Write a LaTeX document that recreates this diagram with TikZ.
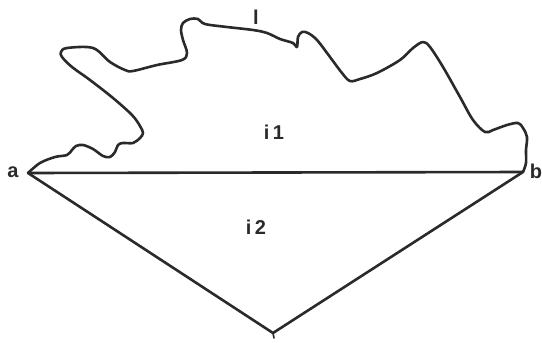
\documentclass[tikz,border=0pt]{standalone}
\usepackage{fontspec}
\setmainfont{Liberation Sans}
\usepackage{tikz}
\usetikzlibrary{positioning}
\definecolor{SketchInk}{HTML}{2A2A2A}

\begin{document}
\begin{tikzpicture}[x=0.5pt, y=-0.5pt, font=\fontsize{10}{12}\selectfont\bfseries,
    outline/.style={SketchInk, line width=1.3pt, line join=round, line cap=round},
    tag/.style={text=SketchInk, inner sep=0pt}]
  \useasboundingbox (0,0) rectangle (542,343);
  % corners
  \coordinate (a) at (28,173);
  \coordinate (b) at (523,172);
  \coordinate (c) at (273,333);
  % wavy upper boundary l
  \draw[outline] plot[smooth, tension=0.55] coordinates {
    (28,173) (40,163) (55,157) (67,155) (72,150) (76,146) (83,145) (93,149)
    (103,156) (110,157) (115,152) (118,145) (123,143) (133,143) (140,138)
    (143,133) (140,126) (132,115) (113,98) (90,80) (72,67) (62,57) (61,52)
    (67,48) (93,48) (110,62) (125,70) (133,71) (157,65) (182,60) (187,53)
    (183,40) (181,30) (183,23) (190,19) (198,19) (205,24) (227,27) (253,30)
    (267,33) (280,39) (293,43) (297,47) (298,37) (302,32) (308,33) (317,40)
    (330,57) (342,73) (350,81) (360,79) (377,73) (400,60) (413,48) (423,42)
    (430,47) (443,67) (460,97) (473,120) (485,132) (493,130) (507,125)
    (518,123) (523,128) (527,137) (526,150) (526,163) (523,172)};
  % chord and triangle
  \draw[outline] (a) -- (b);
  \draw[outline] (a) -- (c) -- (b);
  \draw[outline, line width=0.8pt] (c) -- ++(1,5);
  % labels
  \node[tag] (la) at (13,172) {a};
  \node[tag] (lb) at (536,171) {b};
  \node[tag] (ll) at (256,17) {l};
  \node[tag] (li1) at (274,132) {i\,1};
  \node[tag] (li2) at (256,227) {i\,2};
\end{tikzpicture}
\end{document}
